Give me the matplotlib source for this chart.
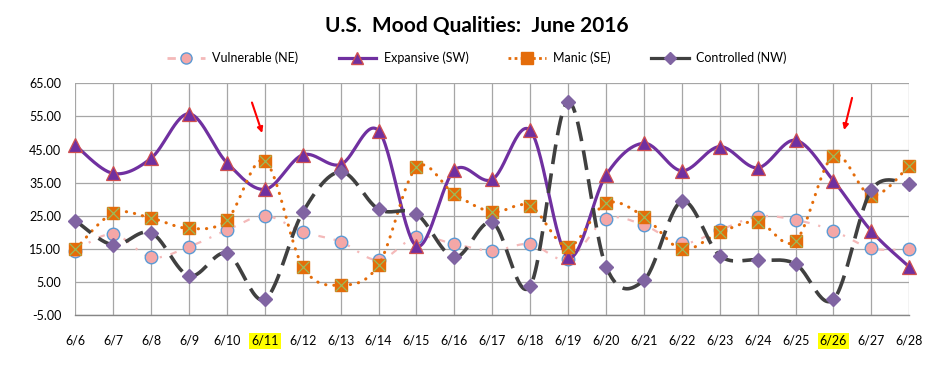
import numpy as np
import matplotlib
matplotlib.use("Agg")
import matplotlib.pyplot as plt
from matplotlib.lines import Line2D

plt.rcParams['font.family'] = ['Lato', 'DejaVu Sans']

dates = ["6/6", "6/7", "6/8", "6/9", "6/10", "6/11", "6/12", "6/13", "6/14", "6/15", "6/16",
         "6/17", "6/18", "6/19", "6/20", "6/21", "6/22", "6/23", "6/24", "6/25", "6/26", "6/27", "6/28"]

vulnerable = [14.5, 19.5, 12.5, 15.7, 20.7, 25.0, 20.2, 17.2, 11.7, 18.7, 16.5,
              14.5, 16.5, 11.9, 24.0, 22.2, 16.7, 20.7, 24.8, 23.8, 20.5, 15.2, 15.0]
expansive = [46.3, 37.8, 42.4, 55.8, 41.0, 33.0, 43.4, 40.5, 50.7, 15.9, 38.8,
             36.0, 50.8, 12.6, 37.3, 46.9, 38.6, 45.9, 39.5, 47.8, 35.6, 20.4, 9.6]
manic = [14.9, 25.8, 24.3, 21.2, 23.8, 41.6, 9.7, 4.1, 10.2, 39.6, 31.6,
         26.2, 28.0, 15.7, 28.8, 24.8, 14.9, 20.0, 23.2, 17.4, 43.2, 31.1, 40.1]
controlled = [23.6, 16.2, 19.9, 6.9, 13.7, -0.2, 26.1, 38.3, 27.0, 25.6, 12.5,
              23.0, 3.8, 59.4, 9.7, 5.6, 29.4, 13.0, 11.7, 10.5, -0.2, 32.8, 34.6]

highlighted = ["6/11", "6/26"]
yticks = [-5, 5, 15, 25, 35, 45, 55, 65]


def smooth(ys, n=30):
    """Excel-style smoothed line (Catmull-Rom Bezier) through the points."""
    ys = np.asarray(ys, float)
    xs = np.arange(len(ys), dtype=float)
    P = np.column_stack([xs, ys])
    out = []
    for i in range(len(P) - 1):
        p0 = P[i - 1] if i > 0 else P[i]
        p1 = P[i]
        p2 = P[i + 1]
        p3 = P[i + 2] if i + 2 < len(P) else P[i + 1]
        c1 = p1 + (p2 - p0) / 6.0
        c2 = p2 - (p3 - p1) / 6.0
        t = np.linspace(0, 1, n)[:, None]
        seg = ((1 - t) ** 3) * p1 + 3 * ((1 - t) ** 2) * t * c1 + 3 * (1 - t) * t ** 2 * c2 + t ** 3 * p2
        out.append(seg if i == 0 else seg[1:])
    s = np.vstack(out)
    return s[:, 0], s[:, 1]


W, H = 939, 377
fig = plt.figure(figsize=(W / 100, H / 100), dpi=100)
L, R, T, B = 75.3, 909.3, 83.3, 315.3
ax = fig.add_axes([L / W, 1 - B / H, (R - L) / W, (B - T) / H])

x = np.arange(len(dates))
ax.set_xlim(0, len(dates) - 1)
ax.set_ylim(-5, 65)
ax.set_yticks(yticks)
ax.set_yticklabels([f"{v:.2f}" for v in yticks])
ax.set_xticks(x)
ax.set_xticklabels(dates)
ax.grid(True, color='#a6a6a6', lw=0.9)
ax.set_axisbelow(True)
for s in ['top', 'right', 'left']:
    ax.spines[s].set_visible(False)
ax.spines['bottom'].set_color('#868686')
ax.spines['bottom'].set_linewidth(1.0)
ax.tick_params(axis='both', length=0, labelsize=9, colors='black')
ax.tick_params(axis='y', pad=10)
ax.tick_params(axis='x', pad=14)
for lab in ax.get_xticklabels():
    if lab.get_text() in highlighted:
        lab.set_bbox(dict(facecolor='#ffff00', edgecolor='none', pad=1.5))

# Vulnerable
sx, sy = smooth(vulnerable)
ax.plot(sx, sy, color='#f4b9b9', lw=1.6, dashes=(3, 4, 1, 4), zorder=3)
ax.plot(x, vulnerable, ls='none', marker='o', ms=9, mfc='#f4a7a7', mec='#5b9bd5',
        mew=1.0, zorder=4, clip_on=False)

# Expansive
sx, sy = smooth(expansive)
ax.plot(sx, sy, color='#7030a0', lw=2.3, zorder=5)
ax.plot(x, expansive, ls='none', marker='^', ms=10, mfc='#7030a0', mec='#d05050',
        mew=0.9, zorder=6, clip_on=False)

# Manic
sx, sy = smooth(manic)
ax.plot(sx, sy, color='#e46c0a', lw=2.2, linestyle=(0, (0.1, 2.6)),
        dash_capstyle='round', zorder=7)
ax.plot(x, manic, ls='none', marker='s', ms=8.5, mfc='#e46c0a', mec='#e46c0a',
        zorder=8, clip_on=False)
ax.plot(x, manic, ls='none', marker='x', ms=8.5, mec='#9bbb59', mew=0.9,
        zorder=8.5, clip_on=False)

# Controlled
sx, sy = smooth(controlled)
ax.plot(sx, sy, color='#404040', lw=2.6, dashes=(5.5, 2.6), zorder=9)
ax.plot(x, controlled, ls='none', marker='D', ms=7, mfc='#8064a2', mec='#8064a2',
        zorder=10, clip_on=False)

# Red arrows pointing at highlighted dates
for lab, (dx0, dy0, dx1, dy1) in zip(highlighted, [(-0.34, 59.2, -0.07, 50.0),
                                                   (0.49, 60.6, 0.28, 50.9)]):
    i = dates.index(lab)
    ax.annotate("", xy=(i + dx1, dy1), xytext=(i + dx0, dy0),
                arrowprops=dict(arrowstyle='-|>', color='#ff0000', lw=1.5,
                                mutation_scale=8, shrinkA=0, shrinkB=0),
                annotation_clip=False, zorder=12)

fig.text(477 / W, 1 - 26 / H, "U.S.  Mood Qualities:  June 2016", ha='center', va='center',
         fontsize=15, fontweight='bold')

handles = [
    Line2D([], [], color='#f4b9b9', lw=2.0, dashes=(3, 3), marker='o', ms=8,
           mfc='#f4a7a7', mec='#5b9bd5'),
    Line2D([], [], color='#7030a0', lw=2.3, marker='^', ms=9, mfc='#7030a0', mec='#d05050'),
    Line2D([], [], color='#e46c0a', lw=2.0, linestyle=(0, (1, 1.2)), marker='s', ms=8,
           mfc='#e46c0a', mec='#e46c0a'),
    Line2D([], [], color='#404040', lw=2.3, marker='D', ms=6, mfc='#8064a2', mec='#8064a2'),
]
labels = ["Vulnerable (NE)", "Expansive (SW)", "Manic (SE)", "Controlled (NW)"]
fig.legend(handles, labels, loc='center', bbox_to_anchor=(477 / W, 1 - 58 / H), ncol=4,
           frameon=False, fontsize=9, handlelength=3.0, columnspacing=3.2, handletextpad=0.6)

fig.savefig("out.png", dpi=100)
